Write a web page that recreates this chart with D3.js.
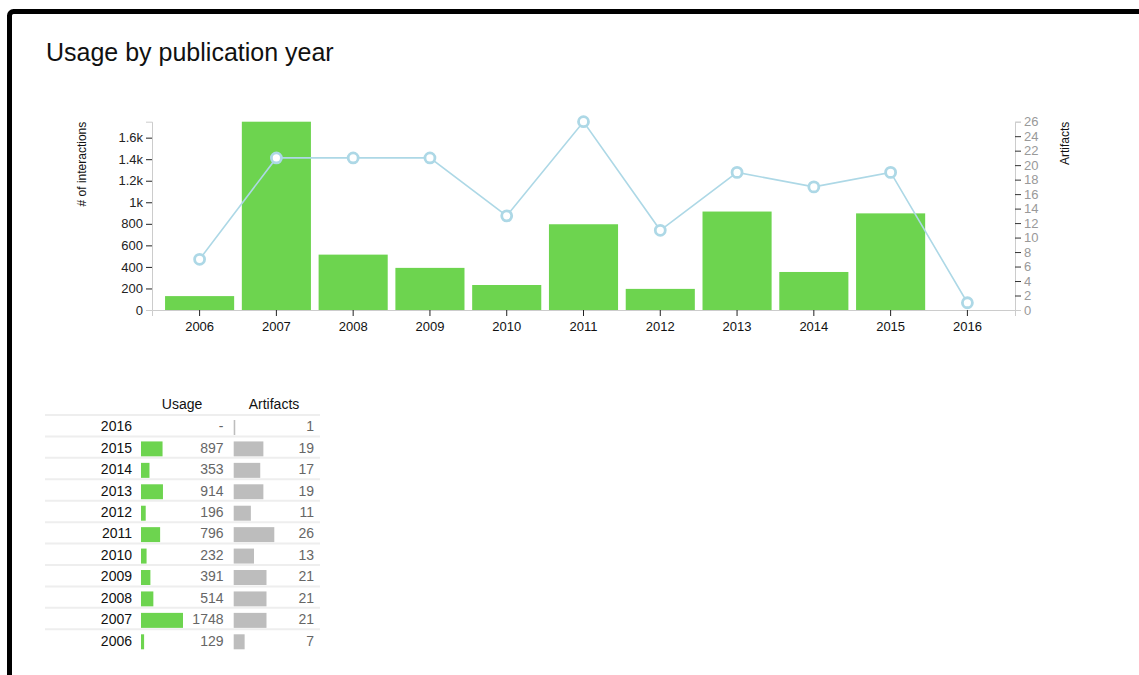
<!DOCTYPE html>
<html>
<head>
<meta charset="utf-8">
<script src="https://cdn.jsdelivr.net/npm/d3@7"></script>
<style>
  body { margin: 0; background: #fff; font-family: "Liberation Sans", Arial, sans-serif; }
  .axis text { font-family: "Liberation Sans", Arial, sans-serif; font-size: 13px; }
</style>
</head>
<body>
<svg id="chart" width="1139" height="675"></svg>
<script>
// data
const years = [2006, 2007, 2008, 2009, 2010, 2011, 2012, 2013, 2014, 2015, 2016];
const usage = [129, 1748, 514, 391, 232, 796, 196, 914, 353, 897, null];
const artifacts = [7, 21, 21, 21, 13, 26, 11, 19, 17, 19, 1];
const usageTicks = [0, 200, 400, 600, 800, 1000, 1200, 1400, 1600];
const artifactTicks = [0, 2, 4, 6, 8, 10, 12, 14, 16, 18, 20, 22, 24, 26];

const rows = years.map((y, i) => ({ year: y, usage: usage[i], artifacts: artifacts[i] }));

const green = "#6dd44f";
const blue = "#add8e6";

const svg = d3.select("#chart");

// frame and title
svg.append("rect")
  .attr("x", 9.5).attr("y", 11.5)
  .attr("width", 1200).attr("height", 700)
  .attr("rx", 4)
  .attr("fill", "none")
  .attr("stroke", "#000")
  .attr("stroke-width", 5);

svg.append("text")
  .attr("x", 46).attr("y", 61)
  .attr("font-size", 25)
  .attr("fill", "#111")
  .text("Usage by publication year");

// scales
const x = d3.scaleBand()
  .domain(years)
  .range([152, 1015])
  .paddingInner(0.1)
  .paddingOuter(0.17);

const yUse = d3.scaleLinear()
  .domain([0, d3.max(usage)])
  .range([310, 121.7]);

const yArt = d3.scaleLinear()
  .domain([0, d3.max(artifacts)])
  .range([310, 121.7]);

// bars
svg.selectAll(".bar")
  .data(rows.filter(d => d.usage != null))
  .enter()
  .append("rect")
  .attr("class", "bar")
  .attr("x", d => x(d.year))
  .attr("y", d => yUse(d.usage))
  .attr("width", x.bandwidth())
  .attr("height", d => yUse(0) - yUse(d.usage))
  .attr("fill", green);

// left axis
const gLeft = svg.append("g")
  .attr("class", "axis")
  .attr("transform", "translate(152,0)")
  .call(d3.axisLeft(yUse).tickValues(usageTicks).tickFormat(d3.format("~s")));
gLeft.select(".domain").attr("stroke", "#ccc");
gLeft.selectAll(".tick line").attr("stroke", d => d === 0 ? "#ccc" : "#222");
gLeft.selectAll(".tick text").attr("fill", "#222");

// right axis
const gRight = svg.append("g")
  .attr("class", "axis")
  .attr("transform", "translate(1015,0)")
  .call(d3.axisRight(yArt).tickValues(artifactTicks));
gRight.select(".domain").attr("stroke", "#ccc");
gRight.selectAll(".tick line").attr("stroke", d => (d === 0 || d === 26) ? "#ccc" : "#333");
gRight.selectAll(".tick text").attr("fill", "#999");

// bottom axis
const gBottom = svg.append("g")
  .attr("class", "axis")
  .attr("transform", "translate(0,310)")
  .call(d3.axisBottom(x));
gBottom.select(".domain").attr("stroke", "#ccc");
gBottom.selectAll(".tick line").attr("stroke", "#222");
gBottom.selectAll(".tick text").attr("fill", "#111").attr("dy", "0.9em");

// axis titles
svg.append("text")
  .attr("transform", "translate(86,121.7) rotate(-90)")
  .attr("text-anchor", "end")
  .attr("font-size", 12)
  .attr("fill", "#111")
  .text("# of interactions");

svg.append("text")
  .attr("transform", "translate(1069,121.7) rotate(-90)")
  .attr("text-anchor", "end")
  .attr("font-size", 12)
  .attr("fill", "#111")
  .text("Artifacts");

// artifacts line
const line = d3.line()
  .x(d => x(d.year) + x.bandwidth() / 2)
  .y(d => yArt(d.artifacts));

svg.append("path")
  .datum(rows)
  .attr("d", line)
  .attr("fill", "none")
  .attr("stroke", blue)
  .attr("stroke-width", 1.6);

svg.selectAll(".dot")
  .data(rows)
  .enter()
  .append("circle")
  .attr("class", "dot")
  .attr("cx", d => x(d.year) + x.bandwidth() / 2)
  .attr("cy", d => yArt(d.artifacts))
  .attr("r", 5)
  .attr("fill", "#fff")
  .attr("stroke", blue)
  .attr("stroke-width", 2.8);

// table
const tableRows = rows.slice().reverse();
const rowY = d3.scaleBand()
  .domain(tableRows.map(d => d.year))
  .range([415, 415 + 21.43 * tableRows.length]);

const useW = d3.scaleLinear().domain([0, d3.max(usage)]).range([0, 42]);
const artW = d3.scaleLinear().domain([0, d3.max(artifacts)]).range([0, 40.6]);

const table = svg.append("g").attr("font-size", 14);

table.append("text")
  .attr("x", 182).attr("y", 408.5)
  .attr("text-anchor", "middle")
  .attr("fill", "#111")
  .text("Usage");

table.append("text")
  .attr("x", 274).attr("y", 408.5)
  .attr("text-anchor", "middle")
  .attr("fill", "#111")
  .text("Artifacts");

const tr = table.selectAll(".row")
  .data(tableRows)
  .enter()
  .append("g")
  .attr("class", "row")
  .attr("transform", d => `translate(0,${rowY(d.year)})`);

tr.append("line")
  .attr("x1", 45).attr("x2", 320)
  .attr("y1", 0).attr("y2", 0)
  .attr("stroke", "#eee")
  .attr("stroke-width", 2);

tr.append("text")
  .attr("x", 132).attr("y", 16.3)
  .attr("text-anchor", "end")
  .attr("fill", "#111")
  .text(d => d.year);

tr.filter(d => d.usage != null)
  .append("rect")
  .attr("x", 141).attr("y", 5)
  .attr("width", d => useW(d.usage))
  .attr("height", 15)
  .attr("fill", green);

tr.append("text")
  .attr("x", 223.5).attr("y", 16.3)
  .attr("text-anchor", "end")
  .attr("fill", "#666")
  .text(d => d.usage == null ? "-" : d.usage);

tr.append("rect")
  .attr("x", 233.7).attr("y", 5)
  .attr("width", d => artW(d.artifacts))
  .attr("height", 15)
  .attr("fill", "#bdbdbd");

tr.append("text")
  .attr("x", 314).attr("y", 16.3)
  .attr("text-anchor", "end")
  .attr("fill", "#666")
  .text(d => d.artifacts);
</script>
</body>
</html>
